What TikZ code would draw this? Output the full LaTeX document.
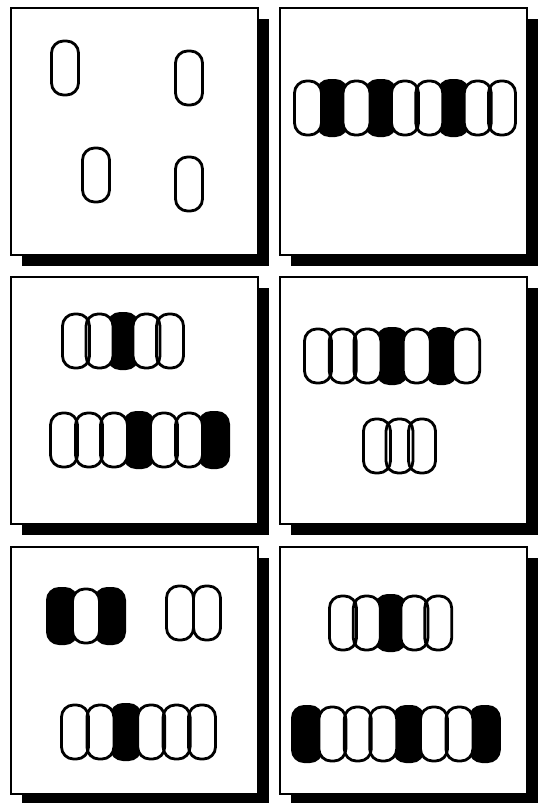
\documentclass[tikz,border=0pt]{standalone}
\tikzset{
  panel/.style={draw=black,line width=1.6pt,fill=white},
  shade/.style={fill=black},
  darkone/.style={fill=black,rounded corners=13pt},
  lightone/.style={fill=white,rounded corners=12pt},
  rim/.style={draw=black,line width=2.8pt,rounded corners=12pt}
}
% #1 = x of first, #2 = y, #3 = spacing, #4 = positions
\newcommand{\darkrow}[4]{%
  \foreach \i in {#4} \fill[darkone] ({#1+#3*\i-16},{#2-29}) rectangle ++(32,58);}
\newcommand{\lightrow}[4]{%
  \foreach \i in {#4} \fill[lightone] ({#1+#3*\i-13.5},{#2-27}) rectangle ++(27,54);
  \foreach \i in {#4} \draw[rim] ({#1+#3*\i-13.5},{#2-27}) rectangle ++(27,54);}
\newcommand{\panelbox}[2]{%
  \fill[shade] ({#1+11},{#2+11}) rectangle ++(247,247);
  \draw[panel] (#1,#2) rectangle ++(247,247);}
\begin{document}
\begin{tikzpicture}[x=1pt,y=-1pt]
  \useasboundingbox[fill=white] (0,0) rectangle (541,803);
  \panelbox{11}{8}
  \panelbox{280}{8}
  \panelbox{11}{277}
  \panelbox{280}{277}
  \panelbox{11}{547}
  \panelbox{280}{547}

  \lightrow{65}{68}{0}{0}
  \lightrow{189}{78}{0}{0}
  \lightrow{96}{175}{0}{0}
  \lightrow{189}{184}{0}{0}

  \darkrow{308}{108}{24.25}{1,3,6}
  \lightrow{308}{108}{24.25}{0,2,4,5,7,8}

  \darkrow{76}{341}{23.5}{2}
  \lightrow{76}{341}{23.5}{0,1,3,4}
  \darkrow{64}{440}{25}{3,6}
  \lightrow{64}{440}{25}{0,1,2,4,5}

  \darkrow{318}{356}{24.7}{3,5}
  \lightrow{318}{356}{24.7}{0,1,2,4,6}
  \lightrow{377}{446}{22.5}{0,1,2}

  \darkrow{62}{616}{24}{0,2}
  \lightrow{62}{616}{24}{1}
  \lightrow{180}{613}{27}{0,1}
  \darkrow{75}{732}{25.4}{2}
  \lightrow{75}{732}{25.4}{0,1,3,4,5}

  \darkrow{343}{623}{23.8}{2}
  \lightrow{343}{623}{23.8}{0,1,3,4}
  \darkrow{307}{734}{25.4}{0,4,7}
  \lightrow{307}{734}{25.4}{1,2,3,5,6}
\end{tikzpicture}
\end{document}
